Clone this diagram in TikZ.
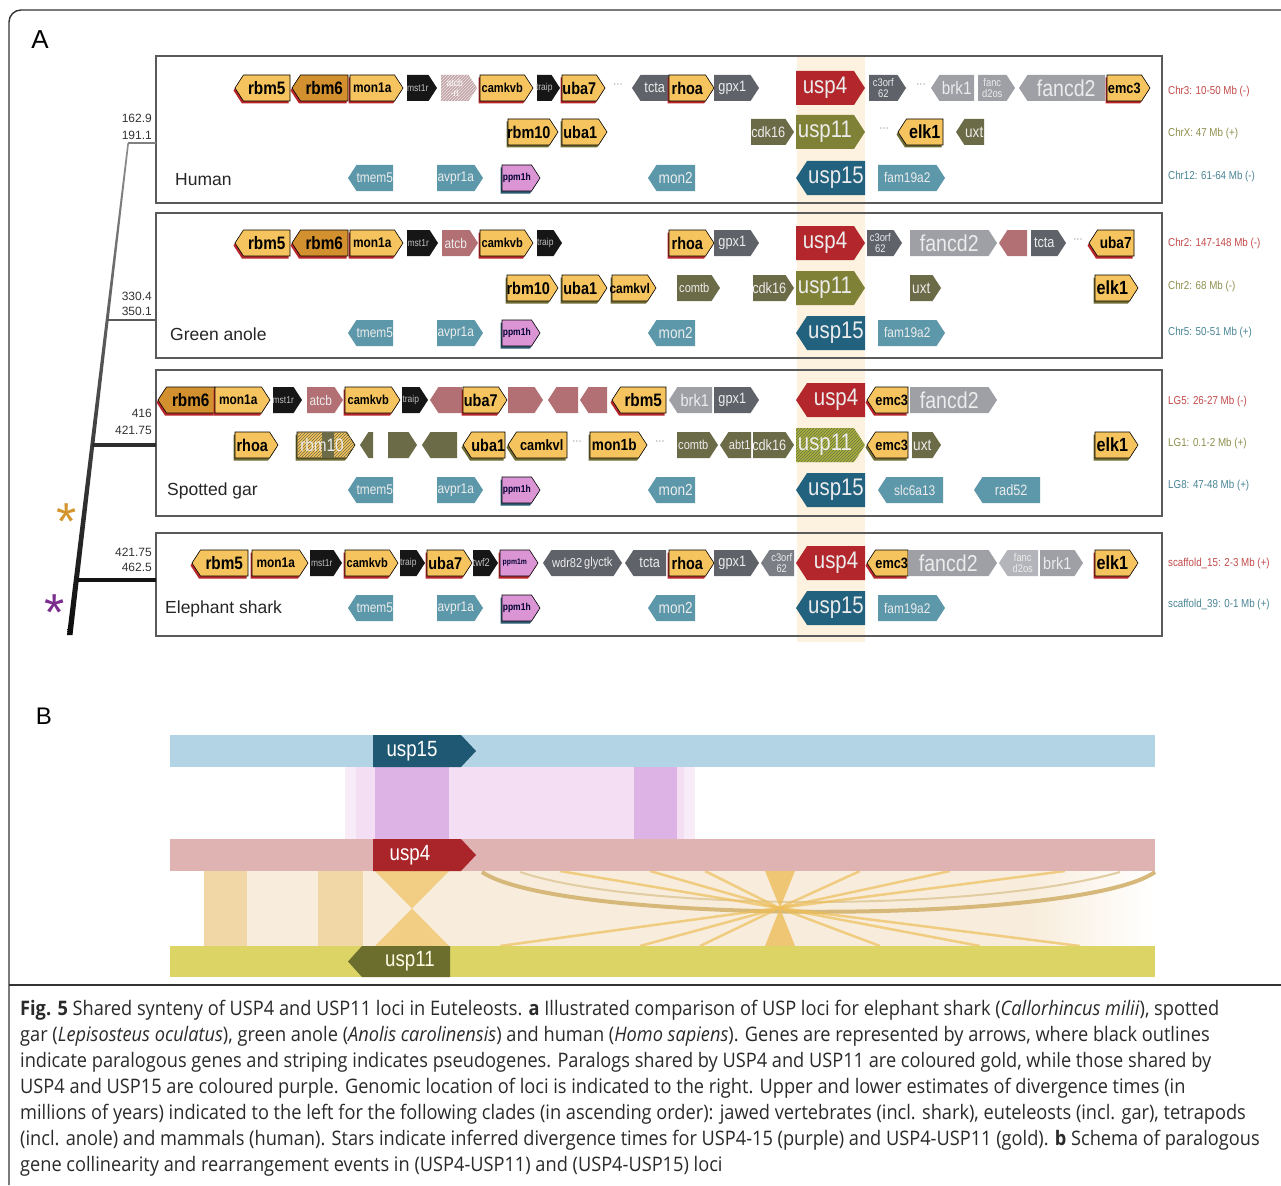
\documentclass[tikz,border=0pt]{standalone}
\usepackage{fontspec}
\setmainfont{Liberation Sans}
\newfontfamily\gfont[FakeStretch=0.85]{Liberation Sans}
\newfontfamily\capfont[FakeStretch=0.91]{Open Sans}
\usetikzlibrary{shadows,patterns}
\definecolor{GoldF}{HTML}{F6C45E}
\definecolor{DGoldF}{HTML}{D3902E}
\definecolor{ShRed}{HTML}{B8262B}
\definecolor{ShOl}{HTML}{6E6B35}
\definecolor{ShTe}{HTML}{2A5A70}
\definecolor{BlkF}{HTML}{161616}
\definecolor{DGrayF}{HTML}{5F6269}
\definecolor{MGrayF}{HTML}{7B7E85}
\definecolor{LGrayF}{HTML}{9EA0A6}
\definecolor{VLGrayF}{HTML}{B3B5BA}
\definecolor{MauveF}{HTML}{B27074}
\definecolor{PaleF}{HTML}{D9BABD}
\definecolor{RedF}{HTML}{B3272C}
\definecolor{OliveF}{HTML}{7F8136}
\definecolor{OliveStrF}{HTML}{A8B53D}
\definecolor{DOliveF}{HTML}{6C6B47}
\definecolor{TealF}{HTML}{5C98AA}
\definecolor{DTealF}{HTML}{22627F}
\definecolor{PinkF}{HTML}{DB95D5}
\definecolor{LightT}{HTML}{ECECEC}
\definecolor{BandC}{HTML}{FDF2DF}
\definecolor{BoxC}{HTML}{5A5A5A}
\definecolor{LabRed}{HTML}{C44A4A}
\definecolor{LabOl}{HTML}{8F8F4E}
\definecolor{LabTe}{HTML}{4A8596}
\definecolor{FrameC}{HTML}{333333}
\definecolor{BlueBar}{HTML}{B3D4E4}
\definecolor{PinkBar}{HTML}{E0B3B3}
\definecolor{YelBar}{HTML}{DDD466}
\definecolor{PurpL}{HTML}{F3DEF3}
\definecolor{PurpH}{HTML}{F8ECF8}
\definecolor{PurpS}{HTML}{DDB2E5}
\definecolor{Cream}{HTML}{F8EDDC}
\definecolor{GoldBand}{HTML}{F1D7A5}
\definecolor{GoldS}{HTML}{EDBE5A}
\definecolor{ArcC}{HTML}{D6B87A}
\definecolor{CapC}{HTML}{2A2A2A}
\definecolor{StarG}{HTML}{D4952E}
\definecolor{StarP}{HTML}{7B2D8E}

\newcounter{gc}
\newcommand{\gene}[8]{%
  \stepcounter{gc}%
  \if r#1%
    \path[s-#5] (#2,#4-#8) -- (#3-0.65*#8,#4-#8) -- (#3,#4) -- (#3-0.65*#8,#4+#8) -- (#2,#4+#8) -- cycle;
    \node[lab,t-#5=#6] (g\thegc) at ({(#2+#3-0.65*#8)/2},#4) {#7};
  \else
    \path[s-#5] (#2,#4) -- (#2+0.65*#8,#4-#8) -- (#3,#4-#8) -- (#3,#4+#8) -- (#2+0.65*#8,#4+#8) -- cycle;
    \node[lab,t-#5=#6] (g\thegc) at ({(#2+0.65*#8+#3)/2},#4) {#7};
  \fi}
\newcommand{\G}[7]{\gene{#1}{#2}{#3}{#4}{#5}{#6}{#7}{13}}
\newcommand{\GU}[7]{\gene{#1}{#2}{#3}{#4}{#5}{#6}{#7}{17}}

\tikzset{
  lab/.style={inner sep=0pt, align=center},
  gsh/.style={general shadow={fill=#1, shadow xshift=-1.5pt, shadow yshift=-2.5pt}},
  tb/.style={font=\gfont\bfseries\fontsize{#1}{#1}\selectfont, text=black},
  tl/.style={font=\gfont\fontsize{#1}{#1}\selectfont, text=LightT},
  tw/.style={font=\gfont\fontsize{#1}{#1}\selectfont, text=white},
  tk/.style={font=\gfont\fontsize{#1}{#1}\selectfont, text=black!25},
  tp/.style={font=\gfont\bfseries\fontsize{#1}{#1}\selectfont, text=black!80!blue},
  par/.style={draw=black, line width=0.6pt},
  s-goldR/.style={fill=GoldF, par, gsh=ShRed}, t-goldR/.style={tb=#1},
  s-goldO/.style={fill=GoldF, par, gsh=ShOl}, t-goldO/.style={tb=#1},
  s-dgoldR/.style={fill=DGoldF, par, gsh=ShRed}, t-dgoldR/.style={tb=#1},
  s-goldstr/.style={fill=GoldF, par, gsh=ShOl, postaction={pattern=north east lines, pattern color=DOliveF}}, t-goldstr/.style={tl=#1},
  s-pinkR/.style={fill=PinkF, par, gsh=ShRed}, t-pinkR/.style={tp=#1},
  s-pinkT/.style={fill=PinkF, par, gsh=ShTe}, t-pinkT/.style={tp=#1},
  s-blk/.style={fill=BlkF}, t-blk/.style={tk=#1},
  s-dgray/.style={fill=DGrayF}, t-dgray/.style={tl=#1},
  s-mgray/.style={fill=MGrayF}, t-mgray/.style={tl=#1},
  s-lgray/.style={fill=LGrayF}, t-lgray/.style={tl=#1},
  s-vlgray/.style={fill=VLGrayF}, t-vlgray/.style={tl=#1},
  s-mauve/.style={fill=MauveF}, t-mauve/.style={tl=#1},
  s-pinkrt/.style={fill=PaleF!90!black, postaction={pattern=north east lines, pattern color=white!60!PaleF}}, t-pinkrt/.style={tw=#1},
  s-red/.style={fill=RedF}, t-red/.style={tl=#1},
  s-olive/.style={fill=OliveF}, t-olive/.style={tl=#1},
  s-olivestr/.style={fill=OliveStrF, postaction={pattern=north east lines, pattern color=DOliveF}}, t-olivestr/.style={tl=#1},
  s-dolive/.style={fill=DOliveF}, t-dolive/.style={tl=#1},
  s-teal/.style={fill=TealF}, t-teal/.style={tl=#1},
  s-dteal/.style={fill=DTealF}, t-dteal/.style={tl=#1},
  dotn/.style={font=\gfont\fontsize{11}{11}\selectfont, text=gray, inner sep=0pt},
  panel/.style={draw=BoxC, line width=1.3pt},
  chrom/.style={font=\gfont\fontsize{11.5}{11.5}\selectfont, anchor=west, inner sep=0pt},
  spec/.style={font=\fontsize{17.5}{17.5}\selectfont, text=black!85, anchor=west, inner sep=0pt},
  age/.style={font=\fontsize{12}{12}\selectfont, text=black!80, anchor=east, inner sep=0pt},
  capl/.style={font=\capfont\fontsize{20}{20}\selectfont, text=CapC, anchor=west, inner sep=0pt},
  sline/.style={draw=GoldS, line width=2.5pt, opacity=0.7},
  star/.style={font=\fontsize{52}{52}\selectfont, inner sep=0pt},
}

\begin{document}
\begin{tikzpicture}[x=1pt,y=-1pt]
\useasboundingbox (0,0) rectangle (1281,1185);
\fill[white] (0,0) rectangle (1281,1185);
% frame
\draw[FrameC, line width=1.4pt, rounded corners=12pt] (9,1185) -- (9,10) -- (1281,10);
\draw[FrameC, line width=1.2pt] (9,985) -- (1281,985);
\node[font=\fontsize{26}{26}\selectfont, inner sep=0pt] (labA) at (40,40) {A};
\node[font=\fontsize{24}{24}\selectfont, inner sep=0pt] (labB) at (44,716) {B};

% highlight band
\fill[BandC] (797,55) rectangle (865,642);
% panels
\draw[panel] (156,56) rectangle (1162,203);
\draw[panel] (156,213) rectangle (1162,358);
\draw[panel] (156,370) rectangle (1162,516);
\draw[panel] (156,533) rectangle (1162,636);

% tree
\shade[top color=black!45, bottom color=black!95] (127.4,143) -- (129,143) -- (72.5,635) -- (67,635) -- cycle;
\draw[black!50, line width=1.2pt] (128,143) -- (156,143);
\draw[black!65, line width=2pt] (107,320) -- (156,320);
\draw[black!82, line width=3.8pt] (92,445) -- (156,445);
\draw[black!92, line width=4.5pt] (76,580) -- (156,580);
\node[age] (a1) at (152,118) {162.9};
\node[age] (a2) at (152,135) {191.1};
\node[age] (a3) at (152,296) {330.4};
\node[age] (a4) at (152,311) {350.1};
\node[age] (a5) at (152,413) {416};
\node[age] (a6) at (152,430) {421.75};
\node[age] (a7) at (152,552) {421.75};
\node[age] (a8) at (152,567) {462.5};
\node[star, text=StarG] (stg) at (67,522) {*};
\node[star, text=StarP] (stp) at (55,613) {*};

% species names
\node[spec] (sp1) at (175,180) {Human};
\node[spec] (sp2) at (170,334) {Green anole};
\node[spec] (sp3) at (167,491) {Spotted gar};
\node[spec] (sp4) at (165,609) {Elephant shark};

% ---------------- Human
\G{l}{235}{290}{88}{goldR}{18}{rbm5}
\G{l}{292}{348}{88}{dgoldR}{18}{rbm6}
\G{r}{350}{403}{88}{goldR}{14}{mon1a}
\G{r}{407}{437}{88}{blk}{10}{mst1r}
\G{r}{441}{477}{88}{pinkrt}{10}{atcb\\-rt}
\G{r}{480}{533}{88}{goldR}{13}{camkvb}
\G{r}{537}{560}{88}{blk}{10}{traip}
\G{r}{562}{605}{88}{goldR}{17}{uba7}
\node[dotn] (h1) at (618,86) {···};
\G{l}{632}{669}{88}{dgray}{15}{tcta}
\G{r}{669}{714}{88}{goldR}{17}{rhoa}
\G{r}{714}{759}{88}{dgray}{15}{gpx1}
\GU{r}{796}{865}{88}{red}{24}{usp4}
\G{r}{869}{906}{88}{dgray}{11}{c3orf\\62}
\node[dotn] (h2) at (921,86) {···};
\G{l}{931}{974}{88}{lgray}{18}{brk1}
\G{r}{978}{1015}{88}{lgray}{11}{fanc\\d2os}
\G{l}{1019}{1105}{88}{lgray}{23}{fancd2}
\G{r}{1107}{1150}{88}{goldR}{15}{emc3}
\G{r}{508}{558}{132}{goldO}{17}{rbm10}
\G{r}{562}{607}{132}{goldO}{17}{uba1}
\G{r}{751}{794}{132}{dolive}{15}{cdk16}
\GU{r}{796}{865}{132}{olive}{24}{usp11}
\node[dotn] (h3) at (884,130) {···};
\G{l}{898}{943}{132}{goldO}{19}{elk1}
\G{l}{956}{984}{132}{dolive}{16}{uxt}
\G{l}{348}{393}{178}{teal}{14}{tmem5}
\G{r}{437}{483}{178}{teal}{14}{avpr1a}
\G{r}{502}{540}{178}{pinkT}{10}{ppm1h}
\G{l}{648}{695}{178}{teal}{16}{mon2}
\GU{l}{796}{865}{178}{dteal}{24}{usp15}
\G{r}{878}{945}{178}{teal}{14}{fam19a2}
\node[chrom, text=LabRed] (c1) at (1168,92) {Chr3: 10-50 Mb (-)};
\node[chrom, text=LabOl] (c2) at (1168,134) {ChrX: 47 Mb (+)};
\node[chrom, text=LabTe] (c3) at (1168,177) {Chr12: 61-64 Mb (-)};

% ---------------- Green anole
\G{l}{235}{290}{243}{goldR}{18}{rbm5}
\G{l}{292}{348}{243}{dgoldR}{18}{rbm6}
\G{r}{350}{403}{243}{goldR}{14}{mon1a}
\G{r}{407}{438}{243}{blk}{10}{mst1r}
\G{r}{442}{478}{243}{mauve}{14}{atcb}
\G{r}{480}{533}{243}{goldR}{13}{camkvb}
\G{r}{537}{562}{243}{blk}{10}{traip}
\G{r}{669}{714}{243}{goldR}{17}{rhoa}
\G{r}{714}{759}{243}{dgray}{15}{gpx1}
\GU{r}{796}{865}{243}{red}{24}{usp4}
\G{r}{867}{902}{243}{dgray}{11}{c3orf\\62}
\G{r}{910}{997}{243}{lgray}{23}{fancd2}
\G{l}{999}{1027}{243}{mauve}{10}{}
\G{r}{1031}{1066}{243}{dgray}{15}{tcta}
\node[dotn] (n1) at (1078,241) {···};
\G{l}{1089}{1134}{243}{goldR}{16}{uba7}
\G{r}{507}{558}{288}{goldO}{17}{rbm10}
\G{r}{562}{607}{288}{goldO}{17}{uba1}
\G{r}{612}{656}{288}{goldO}{14}{camkvl}
\G{r}{677}{720}{288}{dolive}{13}{comtb}
\G{r}{753}{794}{288}{dolive}{15}{cdk16}
\GU{r}{796}{865}{288}{olive}{24}{usp11}
\G{r}{910}{941}{288}{dolive}{16}{uxt}
\G{r}{1095}{1138}{288}{goldO}{19}{elk1}
\G{l}{348}{393}{333}{teal}{14}{tmem5}
\G{r}{437}{483}{333}{teal}{14}{avpr1a}
\G{r}{502}{540}{333}{pinkT}{10}{ppm1h}
\G{l}{648}{695}{333}{teal}{16}{mon2}
\GU{l}{796}{865}{333}{dteal}{24}{usp15}
\G{r}{878}{945}{333}{teal}{14}{fam19a2}
\node[chrom, text=LabRed] (c4) at (1168,244) {Chr2: 147-148 Mb (-)};
\node[chrom, text=LabOl] (c5) at (1168,287) {Chr2: 68 Mb (-)};
\node[chrom, text=LabTe] (c6) at (1168,333) {Chr5: 50-51 Mb (+)};

% ---------------- Spotted gar
\G{l}{158}{215}{400}{dgoldR}{18}{rbm6}
\G{r}{215}{270}{400}{goldR}{14}{mon1a}
\G{r}{273}{302}{400}{blk}{10}{mst1r}
\G{r}{307}{343}{400}{mauve}{14}{atcb}
\G{r}{345}{400}{400}{goldR}{13}{camkvb}
\G{r}{402}{428}{400}{blk}{10}{traip}
\G{l}{430}{462}{400}{mauve}{10}{}
\G{r}{463}{507}{400}{goldR}{17}{uba7}
\G{r}{508}{543}{400}{mauve}{10}{}
\G{l}{548}{578}{400}{mauve}{10}{}
\G{l}{580}{607}{400}{mauve}{10}{}
\G{l}{612}{666}{400}{goldR}{18}{rbm5}
\G{l}{669}{712}{400}{lgray}{17}{brk1}
\G{r}{714}{759}{400}{dgray}{15}{gpx1}
\GU{l}{796}{865}{400}{red}{24}{usp4}
\G{l}{867}{908}{400}{goldR}{15}{emc3}
\G{r}{910}{997}{400}{lgray}{23}{fancd2}
\G{r}{235}{278}{445}{goldO}{17}{rhoa}
\G{r}{297}{355}{445}{goldstr}{10}{}
\fill[DOliveF] (322,432) rectangle (334,458);
\node[lab, tl=18] (rb10) at (322,445) {rbm10};
\G{l}{360}{373}{445}{dolive}{10}{}
\G{r}{388}{417}{445}{dolive}{10}{}
\G{l}{422}{457}{445}{dolive}{10}{}
\G{l}{463}{505}{445}{goldO}{17}{uba1}
\G{l}{508}{567}{445}{goldO}{15}{camkvl}
\node[dotn] (n2) at (577,443) {···};
\G{r}{590}{647}{445}{goldO}{16}{mon1b}
\node[dotn] (n3) at (660,443) {···};
\G{r}{677}{718}{445}{dolive}{13}{comtb}
\G{l}{720}{751}{445}{dolive}{13}{abt1}
\G{r}{753}{794}{445}{dolive}{15}{cdk16}
\GU{r}{796}{865}{445}{olivestr}{24}{usp11}
\G{l}{867}{908}{445}{goldO}{15}{emc3}
\G{r}{912}{941}{445}{dolive}{16}{uxt}
\G{r}{1095}{1138}{445}{goldO}{19}{elk1}
\G{l}{348}{393}{490}{teal}{14}{tmem5}
\G{r}{437}{483}{490}{teal}{14}{avpr1a}
\G{r}{502}{540}{490}{pinkT}{10}{ppm1h}
\G{l}{648}{695}{490}{teal}{16}{mon2}
\GU{l}{796}{865}{490}{dteal}{24}{usp15}
\G{l}{878}{943}{490}{teal}{14}{slc6a13}
\G{l}{974}{1040}{490}{teal}{15}{rad52}
\node[chrom, text=LabRed] (c7) at (1168,402) {LG5: 26-27 Mb (-)};
\node[chrom, text=LabOl] (c8) at (1168,444) {LG1: 0.1-2 Mb (+)};
\node[chrom, text=LabTe] (c9) at (1168,486) {LG8: 47-48 Mb (+)};

% ---------------- Elephant shark
\G{l}{192}{248}{563}{goldR}{18}{rbm5}
\G{r}{252}{308}{563}{goldR}{14}{mon1a}
\G{r}{310}{342}{563}{blk}{10}{mst1r}
\G{r}{345}{398}{563}{goldR}{13}{camkvb}
\G{r}{400}{425}{563}{blk}{10}{traip}
\G{r}{427}{472}{563}{goldR}{17}{uba7}
\G{r}{473}{498}{563}{blk}{11}{twf2}
\G{r}{500}{538}{563}{pinkR}{8}{ppm1m}
\G{l}{543}{583}{563}{dgray}{13}{wdr82}
\G{r}{583}{622}{563}{dgray}{13}{glyctk}
\G{l}{625}{666}{563}{dgray}{15}{tcta}
\G{r}{669}{714}{563}{goldR}{17}{rhoa}
\G{r}{714}{759}{563}{dgray}{15}{gpx1}
\G{l}{761}{794}{563}{mgray}{11}{c3orf\\62}
\GU{l}{796}{865}{563}{red}{24}{usp4}
\G{l}{867}{908}{563}{goldR}{15}{emc3}
\G{r}{908}{997}{563}{lgray}{23}{fancd2}
\G{l}{999}{1038}{563}{vlgray}{11}{fanc\\d2os}
\G{r}{1040}{1083}{563}{lgray}{17}{brk1}
\G{r}{1095}{1138}{563}{goldR}{19}{elk1}
\G{l}{348}{393}{608}{teal}{14}{tmem5}
\G{r}{437}{483}{608}{teal}{14}{avpr1a}
\G{r}{502}{540}{608}{pinkT}{10}{ppm1h}
\G{l}{648}{695}{608}{teal}{16}{mon2}
\GU{l}{796}{865}{608}{dteal}{24}{usp15}
\G{r}{878}{945}{608}{teal}{14}{fam19a2}
\node[chrom, text=LabRed] (c10) at (1168,564) {scaffold\_15: 2-3 Mb (+)};
\node[chrom, text=LabTe] (c11) at (1168,605) {scaffold\_39: 0-1 Mb (+)};

% ---------------- Panel B
\fill[PurpH] (345,767) rectangle (695,839);
\fill[PurpL] (356,767) rectangle (684,839);
\fill[PurpS] (375,767) rectangle (449,839);
\fill[PurpS] (634,767) rectangle (677,839);
\fill[Cream] (204,871) rectangle (1030,946);
\shade[left color=Cream, right color=white] (1030,871) rectangle (1155,946);
\fill[GoldBand] (204,871) rectangle (247,946);
\fill[GoldBand] (318,871) rectangle (363,946);
\fill[GoldS!75!white] (375,871) -- (449,871) -- (412,908.5) -- (449,946) -- (375,946) -- (412,908.5) -- cycle;
\draw[ArcC, line width=4pt] (482,872) .. controls (560,925) and (1080,925) .. (1155,872);
\draw[ArcC!70!white, line width=2pt] (520,872) .. controls (640,912) and (980,912) .. (1120,872);
\foreach \t in {560,650,705,860,950,1065} \draw[sline] (779,908) -- (\t,871);
\foreach \b in {500,640,700,880,980,1080} \draw[sline] (779,908) -- (\b,946);
\fill[GoldS, opacity=0.8] (765,871) -- (795,871) -- (780,908) -- (795,946) -- (765,946) -- (780,908) -- cycle;
\fill[BlueBar] (170,735) rectangle (1155,767);
\fill[PinkBar] (170,839) rectangle (1155,871);
\fill[YelBar] (170,946) rectangle (1155,977);
\fill[DTealF!90!black] (373,735) -- (461,735) -- (476,751) -- (461,767) -- (373,767) -- cycle;
\node[lab, font=\gfont\fontsize{22}{22}\selectfont, text=white] (b15) at (412,751) {usp15};
\fill[RedF!95!black] (373,839) -- (461,839) -- (476,855) -- (461,871) -- (373,871) -- cycle;
\node[lab, font=\gfont\fontsize{22}{22}\selectfont, text=white] (b4) at (410,855) {usp4};
\fill[OliveF!85!black] (348,961.5) -- (362,946) -- (450,946) -- (450,977) -- (362,977) -- cycle;
\node[lab, font=\gfont\fontsize{22}{22}\selectfont, text=white!90!yellow] (b11) at (410,961) {usp11};

% ---------------- Caption
\node[capl] (l1) at (20,1010) {\textbf{Fig. 5} Shared synteny of USP4 and USP11 loci in Euteleosts. \textbf{a} Illustrated comparison of USP loci for elephant shark (\textit{Callorhincus milii}), spotted};
\node[capl] (l2) at (20,1036) {gar (\textit{Lepisosteus oculatus}), green anole (\textit{Anolis carolinensis}) and human (\textit{Homo sapiens}). Genes are represented by arrows, where black outlines};
\node[capl] (l3) at (20,1062) {indicate paralogous genes and striping indicates pseudogenes. Paralogs shared by USP4 and USP11 are coloured gold, while those shared by};
\node[capl] (l4) at (20,1088) {USP4 and USP15 are coloured purple. Genomic location of loci is indicated to the right. Upper and lower estimates of divergence times (in};
\node[capl] (l5) at (20,1114) {millions of years) indicated to the left for the following clades (in ascending order): jawed vertebrates (incl. shark), euteleosts (incl. gar), tetrapods};
\node[capl] (l6) at (20,1140) {(incl. anole) and mammals (human). Stars indicate inferred divergence times for USP4-15 (purple) and USP4-USP11 (gold). \textbf{b} Schema of paralogous};
\node[capl] (l7) at (20,1166) {gene collinearity and rearrangement events in (USP4-USP11) and (USP4-USP15) loci};
\end{tikzpicture}
\end{document}
